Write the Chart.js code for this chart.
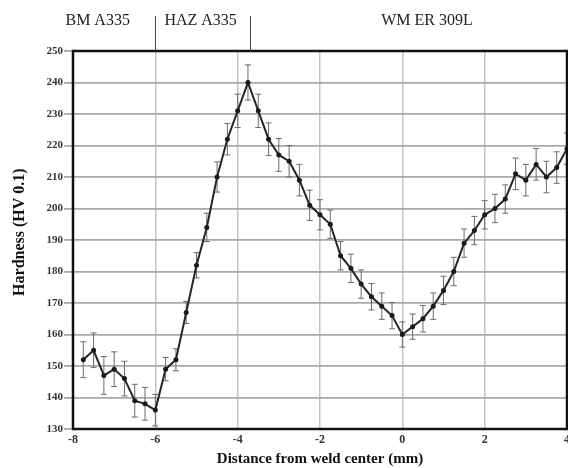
<!DOCTYPE html>
<html>
<head>
<meta charset="utf-8">
<script src="https://cdn.jsdelivr.net/npm/chart.js@4/dist/chart.umd.min.js"></script>
<style>
  html, body { margin: 0; padding: 0; background: #fff; }
  #wrap { width: 568px; height: 468px; }
</style>
</head>
<body>
<div id="wrap"><canvas id="hardness" width="568" height="468"></canvas></div>
<script>
// distance from weld center (mm), one reading every 0.25 mm
const distances = [
  -7.75, -7.5, -7.25, -7, -6.75, -6.5, -6.25, -6,
  -5.75, -5.5, -5.25, -5, -4.75, -4.5, -4.25, -4,
  -3.75, -3.5, -3.25, -3, -2.75, -2.5, -2.25, -2,
  -1.75, -1.5, -1.25, -1, -0.75, -0.5, -0.25, 0,
  0.25, 0.5, 0.75, 1, 1.25, 1.5, 1.75, 2,
  2.25, 2.5, 2.75, 3, 3.25, 3.5, 3.75, 4,
]
const hardness = [
  152, 155, 147, 149, 146, 139, 138, 136,
  149, 152, 167, 182, 194, 210, 222, 231,
  240, 231, 222, 217, 215, 209, 201, 198,
  195, 185, 181, 176, 172, 169, 166, 160,
  162.5, 165, 169, 174, 180, 189, 193, 198,
  200, 203, 211, 209, 214, 210, 213, 219,
]
const hardnessErr = [
  5.7, 5.5, 6, 5.5, 5.5, 5.2, 5.2, 5,
  3.7, 3.5, 3.5, 4, 4.5, 4.8, 5, 5.3,
  5.6, 5.3, 5.2, 5.2, 5, 5, 4.8, 4.8,
  4.5, 4.5, 4.5, 4.5, 4.2, 4.2, 4.2, 4,
  4, 4.2, 4.2, 4.5, 4.5, 4.5, 4.5, 4.5,
  4.5, 4.5, 5, 5, 5, 5, 5, 5,
]

// zones written above the plot, and the boundaries between them (mm)
const zoneNames = ['BM A335', 'HAZ A335', 'WM ER 309L']
const zoneCenters = [-7.4, -4.9, 0.6]
const zoneBounds = [-6, -3.7]

const serif = '"Liberation Serif", "DejaVu Serif", serif'

const errorBars = {
  id: 'errorBars',
  beforeDatasetsDraw (chart) {
    const { ctx, scales: { x, y } } = chart
    ctx.save()
    ctx.strokeStyle = '#6b6b6b'
    ctx.lineWidth = 1
    hardness.forEach((v, i) => {
      const px = x.getPixelForValue(distances[i])
      const top = y.getPixelForValue(v + hardnessErr[i])
      const bot = y.getPixelForValue(v - hardnessErr[i])
      ctx.beginPath()
      ctx.moveTo(px, top); ctx.lineTo(px, bot)
      ctx.moveTo(px - 3, top); ctx.lineTo(px + 3, top)
      ctx.moveTo(px - 3, bot); ctx.lineTo(px + 3, bot)
      ctx.stroke()
    })
    ctx.restore()
  },
}

const frameAndZones = {
  id: 'frameAndZones',
  afterDraw (chart) {
    const { ctx, chartArea: a, scales: { x, y } } = chart
    ctx.save()
    ctx.strokeStyle = '#111'
    ctx.lineWidth = 2.5
    ctx.strokeRect(a.left, a.top, a.right - a.left, a.bottom - a.top)

    ctx.strokeStyle = '#444'
    ctx.lineWidth = 1
    zoneBounds.forEach(b => {
      const px = Math.round(x.getPixelForValue(b)) + 0.5
      ctx.beginPath()
      ctx.moveTo(px, 16)
      ctx.lineTo(px, a.top)
      ctx.stroke()
    })

    ctx.fillStyle = '#222'
    ctx.font = `16px ${serif}`
    ctx.textAlign = 'center'
    ctx.textBaseline = 'middle'
    zoneNames.forEach((n, i) => ctx.fillText(n, x.getPixelForValue(zoneCenters[i]), 21))

    // y title sits a bit above the middle of the axis in the original
    ctx.translate(20, y.getPixelForValue(192.5))
    ctx.rotate(-Math.PI / 2)
    ctx.fillStyle = '#111'
    ctx.font = `bold 16px ${serif}`
    ctx.fillText('Hardness (HV 0.1)', 0, 0)
    ctx.restore()
  },
}

new Chart(document.getElementById('hardness'), {
  type: 'scatter',
  data: {
    datasets: [{
      data: distances.map((d, i) => ({ x: d, y: hardness[i] })),
      showLine: true,
      borderColor: '#262626',
      borderWidth: 2,
      pointRadius: 2.5,
      pointBackgroundColor: '#1a1a1a',
      pointBorderWidth: 0,
      tension: 0,
    }],
  },
  options: {
    responsive: false,
    animation: false,
    layout: { autoPadding: false, padding: { top: 51, right: 1, left: 0, bottom: 0 } },
    plugins: { legend: { display: false }, tooltip: { enabled: false } },
    scales: {
      x: {
        type: 'linear',
        min: -8,
        max: 4,
        afterFit: s => {
          s.height = 39
          s.paddingRight = 0 // let the "4" run off the edge like the original
        },
        ticks: { stepSize: 2, padding: 4, color: '#333', font: { family: serif, size: 12, weight: 'bold' } },
        grid: { color: '#c4c4c4', lineWidth: 1.5, drawTicks: false },
        border: { display: false },
        title: {
          display: true,
          text: 'Distance from weld center (mm)',
          color: '#111',
          padding: 0,
          font: { family: serif, size: 15, weight: 'bold' },
        },
      },
      y: {
        min: 130,
        max: 250,
        afterFit: s => { s.width = 73 },
        ticks: { stepSize: 10, padding: 1, color: '#333', font: { family: serif, size: 11, weight: 'bold' } },
        grid: { color: '#a8a8a8', lineWidth: 1.8, tickLength: 9 },
        border: { display: false },
      },
    },
  },
  plugins: [errorBars, frameAndZones],
})
</script>
</body>
</html>
